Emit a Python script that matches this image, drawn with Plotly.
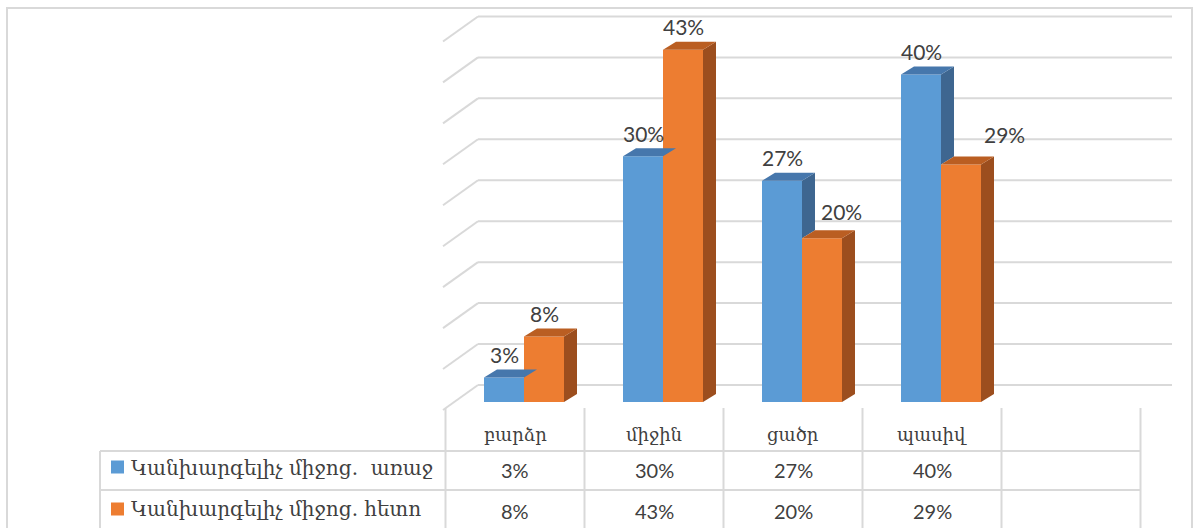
import plotly.graph_objects as go

# ---------------- data ----------------
categories = ["բարձր", "միջին", "ցածր", "պասիվ"]
series_names = ["Կանխարգելիչ միջոց.  առաջ", "Կանխարգելիչ միջոց. հետո"]
before_vals = [3, 30, 27, 40]
after_vals = [8, 43, 20, 29]
value_labels_before = ["3%", "30%", "27%", "40%"]
value_labels_after = ["8%", "43%", "20%", "29%"]
grid_ticks = [0, 5, 10, 15, 20, 25, 30, 35, 40, 45]

# ---------------- style ----------------
W, H = 1195, 528
COL_PX = 139.0          # pixels per category column
X0_PX = 515.0           # pixel centre of first category
Y0_PX = 402.0           # pixel of value 0 (bar front baseline)
PX_PER_PCT = 8.19

BLUE, BLUE_TOP, BLUE_SIDE = "#5B9BD5", "#4677AC", "#3E6690"
ORANGE, ORANGE_TOP, ORANGE_SIDE = "#ED7D31", "#BA5E22", "#9C4E1E"
GRID = "#d9d9d9"
TXT = "#404040"
FONT_NUM = "Lato, DejaVu Serif, sans-serif"
FONT_ARM = "DejaVu Serif, serif"

def px2x(p):
    return (p - X0_PX) / COL_PX

def px2y(p):
    return (Y0_PX - p) / PX_PER_PCT

def ypaper(p):
    return 1 - p / H

def svg_text(s):
    # keep repeated spaces visible in SVG
    return s.replace("  ", " \u00a0")

bar_w = 40 / COL_PX
blue_off = px2x(484)
orange_off = blue_off + bar_w
depth_dx = 13 / COL_PX
depth_dy = 8 / PX_PER_PCT

xs = list(range(len(categories)))

fig = go.Figure()

# front faces
fig.add_trace(go.Bar(x=xs, y=before_vals, base=0, width=bar_w, offset=blue_off,
                     marker=dict(color=BLUE, line=dict(width=0)), name=series_names[0],
                     showlegend=False, hoverinfo="skip"))
fig.add_trace(go.Bar(x=xs, y=after_vals, base=0, width=bar_w, offset=orange_off,
                     marker=dict(color=ORANGE, line=dict(width=0)), name=series_names[1],
                     showlegend=False, hoverinfo="skip"))

def faces(vals, off, clip_vals=None):
    tx, ty, sx, sy = [], [], [], []
    for i, v in enumerate(vals):
        a = i + off
        b = a + bar_w
        tx += [a, b, b + depth_dx, a + depth_dx, a, None]
        ty += [v, v, v + depth_dy, v + depth_dy, v, None]
        lo = 0 if clip_vals is None else clip_vals[i]
        if v > lo:
            sx += [b, b, b + depth_dx, b + depth_dx, b, None]
            sy += [lo, v, v + depth_dy, lo + depth_dy, lo, None]
    return tx, ty, sx, sy

btx, bty, bsx, bsy = faces(before_vals, blue_off, clip_vals=after_vals)
otx, oty, osx, osy = faces(after_vals, orange_off)

for fx, fy, col in [(bsx, bsy, BLUE_SIDE), (btx, bty, BLUE_TOP),
                    (osx, osy, ORANGE_SIDE), (otx, oty, ORANGE_TOP)]:
    fig.add_trace(go.Scatter(x=fx, y=fy, mode="lines", fill="toself", fillcolor=col,
                             line=dict(width=0, color=col), showlegend=False,
                             hoverinfo="skip"))

# ---------------- gridlines (back wall + side wall) ----------------
wall_dy = 17 / PX_PER_PCT
front_dy = -8 / PX_PER_PCT
xl_front, xl_back, x_right = px2x(443), px2x(478), px2x(1172)
shapes = []
for t in grid_ticks:
    shapes.append(dict(type="line", xref="x", yref="y", x0=xl_back, x1=x_right,
                       y0=t + wall_dy, y1=t + wall_dy, line=dict(color=GRID, width=2),
                       layer="below"))
    shapes.append(dict(type="line", xref="x", yref="y", x0=xl_front, x1=xl_back,
                       y0=t + front_dy, y1=t + wall_dy, line=dict(color=GRID, width=2),
                       layer="below"))

# outer border
shapes.append(dict(type="rect", xref="paper", yref="paper", x0=7 / W, x1=1192 / W,
                   y0=ypaper(540), y1=ypaper(8), line=dict(color=GRID, width=2),
                   layer="below"))

# ---------------- data table ----------------
n_cols = len(categories) + 1
table_right = (X0_PX + COL_PX * (n_cols - 0.5)) / W
for k in range(n_cols + 1):
    xb = k - 0.5
    shapes.append(dict(type="line", xref="x", yref="paper", x0=xb, x1=xb,
                       y0=ypaper(535), y1=ypaper(408), line=dict(color=GRID, width=2)))
shapes.append(dict(type="line", xref="paper", yref="paper", x0=100 / W, x1=100 / W,
                   y0=ypaper(535), y1=ypaper(451), line=dict(color=GRID, width=2)))
for yy in [451, 490, 530]:
    shapes.append(dict(type="line", xref="paper", yref="paper",
                       x0=100 / W, x1=table_right,
                       y0=ypaper(yy), y1=ypaper(yy), line=dict(color=GRID, width=2)))

# legend keys in table
for yc, col in [(467, BLUE), (509, ORANGE)]:
    shapes.append(dict(type="rect", xref="paper", yref="paper", x0=111 / W, x1=124 / W,
                       y0=ypaper(yc + 6.5), y1=ypaper(yc - 6.5), fillcolor=col,
                       line=dict(width=0)))

annotations = []
for i, c in enumerate(categories):
    annotations.append(dict(x=i, y=ypaper(434), xref="x", yref="paper", text=c,
                            showarrow=False, yanchor="middle", xanchor="center",
                            font=dict(family=FONT_ARM, size=18, color=TXT)))
    annotations.append(dict(x=i, y=ypaper(470), xref="x", yref="paper",
                            text=value_labels_before[i], showarrow=False,
                            yanchor="middle", xanchor="center",
                            font=dict(family=FONT_NUM, size=20, color=TXT)))
    annotations.append(dict(x=i, y=ypaper(511), xref="x", yref="paper",
                            text=value_labels_after[i], showarrow=False,
                            yanchor="middle", xanchor="center",
                            font=dict(family=FONT_NUM, size=20, color=TXT)))
for yc, name in [(468, series_names[0]), (509, series_names[1])]:
    annotations.append(dict(x=129 / W, y=ypaper(yc), xref="paper", yref="paper",
                            text=svg_text(name), showarrow=False, xanchor="left",
                            yanchor="middle",
                            font=dict(family=FONT_ARM, size=20, color=TXT)))

# value labels above bars (manual nudges in pixels for two labels)
nudge_before = [(0, 0), (0, 0), (0, 0), (0, 0)]
nudge_after = [(0, 0), (0, 0), (19, 4), (43, 7)]
for i in xs:
    for v, lab, off, nd in [(before_vals[i], value_labels_before[i], blue_off, nudge_before[i]),
                            (after_vals[i], value_labels_after[i], orange_off, nudge_after[i])]:
        annotations.append(dict(x=i + off + bar_w / 2, y=v, xref="x", yref="y", text=lab,
                                showarrow=False, yanchor="middle", xanchor="center",
                                xshift=nd[0], yshift=23 + nd[1],
                                font=dict(family=FONT_NUM, size=21, color=TXT)))

fig.update_layout(
    width=W, height=H, autosize=False,
    margin=dict(l=0, r=0, t=0, b=0),
    paper_bgcolor="white", plot_bgcolor="white",
    barmode="overlay",
    xaxis=dict(range=[px2x(0), px2x(W)], visible=False, fixedrange=True),
    yaxis=dict(range=[px2y(H), px2y(0)], visible=False, fixedrange=True),
    shapes=shapes, annotations=annotations, showlegend=False,
)

fig.write_html("out.html", config={"displayModeBar": False})
